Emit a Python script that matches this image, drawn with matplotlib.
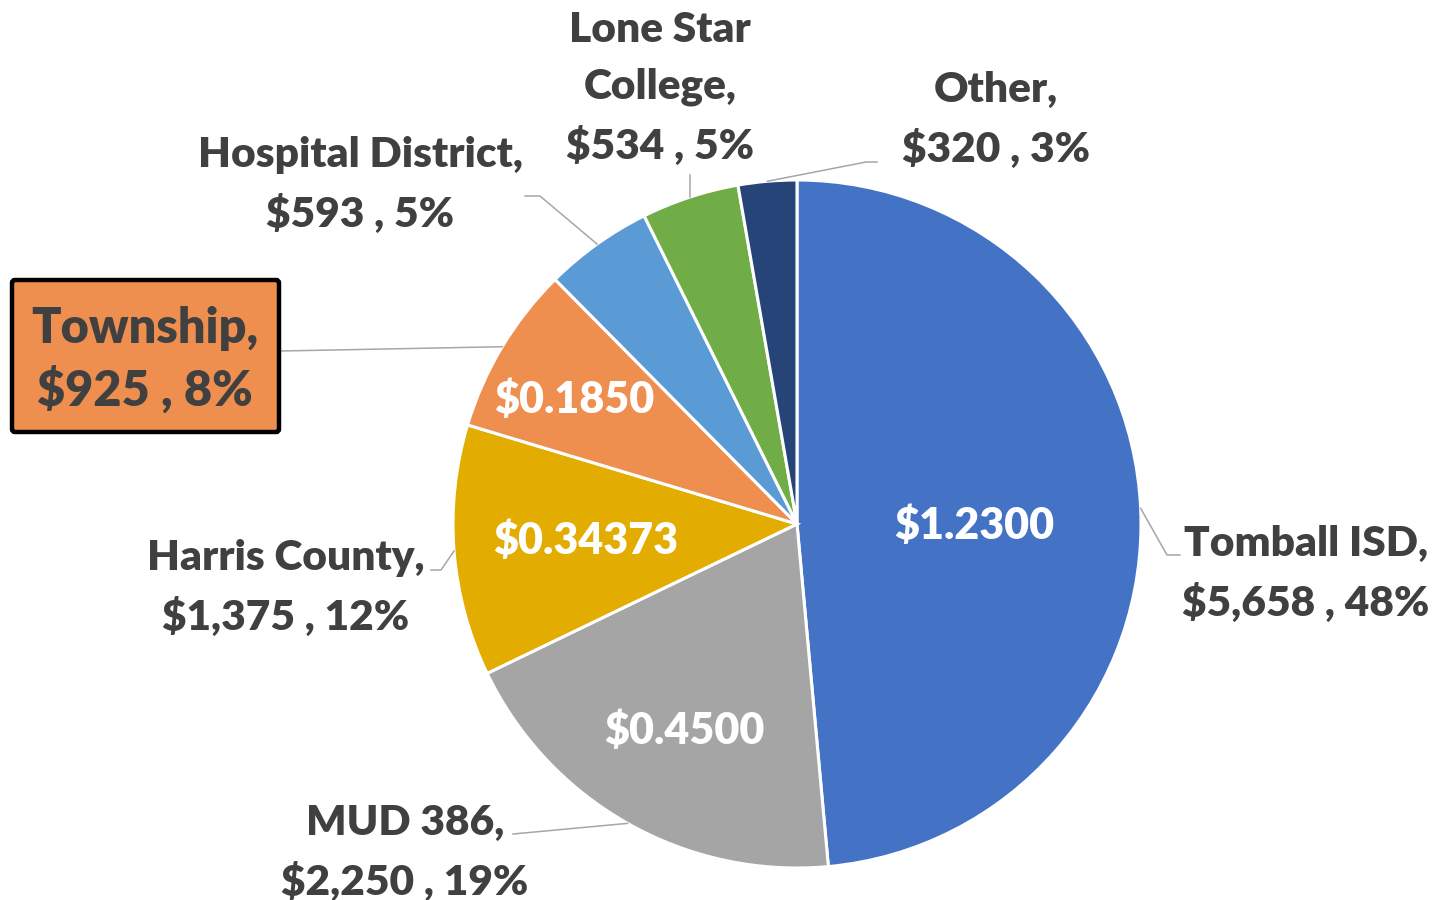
import matplotlib.pyplot as plt
import numpy as np
from matplotlib.patches import FancyBboxPatch

names = ['Tomball ISD', 'MUD 386', 'Harris County', 'Township',
         'Hospital District', 'Lone Star\nCollege', 'Other']
amounts = [5658, 2250, 1375, 925, 593, 534, 320]
percents = [48, 19, 12, 8, 5, 5, 3]
rates = ['$1.2300', '$0.4500', '$0.34373', '$0.1850', '', '', '']
colors = ['#4472C4', '#A5A5A5', '#E2AC00', '#EF8F4F',
          '#5B9BD5', '#70AD47', '#264478']

W, H = 1439, 900
fig = plt.figure(figsize=(W / 100, H / 100), dpi=100)
ax = fig.add_axes([0, 0, 1, 1])

def Y(y):
    return H - y

cx, cy, R = 797, 524, 344
plt.rcParams['font.family'] = ['Lato', 'DejaVu Sans']
txt = '#404040'

wedges, _ = ax.pie(amounts, colors=colors, startangle=90, counterclock=False,
                   center=(cx, Y(cy)), radius=R, frame=True,
                   wedgeprops=dict(edgecolor='white', linewidth=2.2))
ax.set_xlim(0, W)
ax.set_ylim(0, H)
ax.set_aspect('equal')
ax.axis('off')

# rate labels inside the slices (pixel positions)
inner_pos = [(974, 526), (684, 731), (586, 541), (574, 400)]
for rt, (x, y) in zip(rates, inner_pos):
    ax.text(x, Y(y), rt, ha='center', va='center', color='white',
            fontsize=31, fontweight='heavy')

# outside labels: text centre, leader elbow, leader end (pixels)
label_pos = [(1306, 571), (405, 850), (286, 585), (145, 357),
             (360, 182), (660, 85), (996, 117)]
leaders = [[(1167, 555), (1180, 555)],
           [(513, 834)],
           [(441, 570), (431, 570)],
           [(281, 351)],
           [(540, 196), (525, 196)],
           [(690, 175)],
           [(866, 162), (877, 162)]]

for i, w in enumerate(wedges):
    a = np.deg2rad((w.theta1 + w.theta2) / 2)
    pts = [(cx + R * np.cos(a), Y(cy) + R * np.sin(a))]
    pts += [(x, Y(y)) for x, y in leaders[i]]
    xs, ys = zip(*pts)
    ax.plot(xs, ys, color='#A6A6A6', linewidth=1.1, zorder=1)

    s = f'{names[i]},\n${amounts[i]:,} , {percents[i]}%'
    lx, ly = label_pos[i]
    if names[i] == 'Township':
        box = FancyBboxPatch((12, Y(432)), 267, 152,
                             boxstyle='round,pad=0,rounding_size=3',
                             facecolor=colors[i], edgecolor='black',
                             linewidth=3.2, zorder=2)
        ax.add_patch(box)
        ax.text(lx, Y(ly + 3), s, ha='center', va='center', color=txt,
                fontsize=35, fontweight='heavy', linespacing=1.35, zorder=3)
    else:
        ax.text(lx, Y(ly + 3), s, ha='center', va='center', color=txt,
                fontsize=30.5, fontweight='heavy', linespacing=1.6)

fig.savefig('out.png', dpi=100)
